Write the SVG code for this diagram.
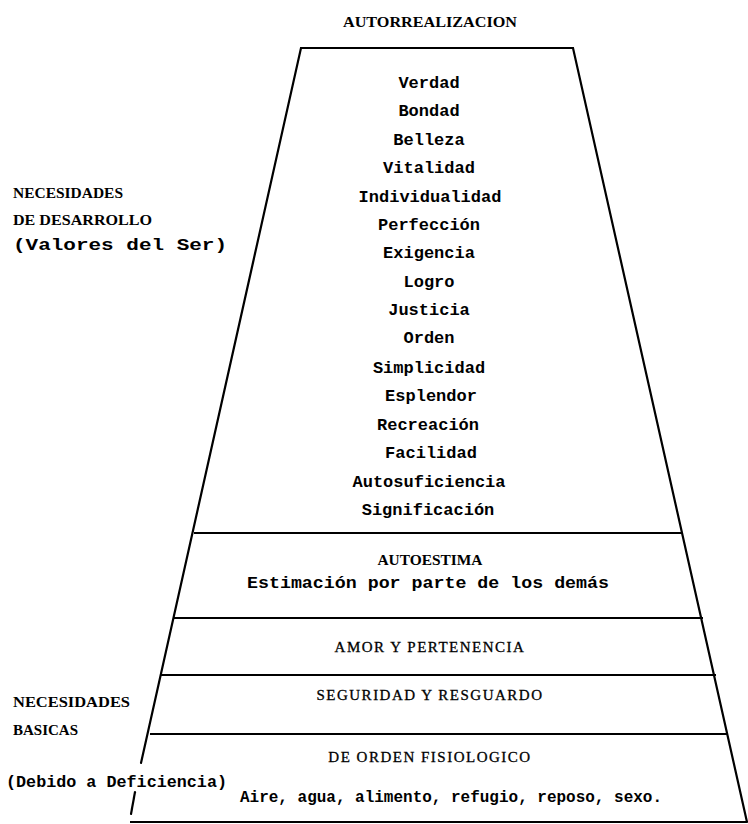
<svg xmlns="http://www.w3.org/2000/svg" width="748" height="824" viewBox="0 0 748 824">
<style>
.edge{stroke:#000;stroke-width:2.2;fill:none;stroke-linecap:round}
.div{stroke:#000;stroke-width:2;fill:none}
.cap{font-family:"Liberation Serif",serif;font-weight:bold;font-size:15px;fill:#000}
.capr{font-family:"Liberation Serif",serif;font-size:15px;fill:#000;letter-spacing:1.5px;stroke:#000;stroke-width:0.3}
.item{font-family:"Liberation Mono",monospace;font-weight:bold;font-size:17px;fill:#000;text-anchor:middle}
.mono{font-family:"Liberation Mono",monospace;font-weight:bold;font-size:16px;fill:#000}
.mid{text-anchor:middle}
</style>
<rect width="748" height="824" fill="#fff"/>
<g id="connectors">
<path class="edge" d="M141,763 L301,48 L573,48 L747,822"/>
<path class="edge" d="M135,792 L131,814"/>
<line class="div" x1="194" y1="533" x2="682" y2="533"/>
<line class="div" x1="174" y1="618" x2="703" y2="618"/>
<line class="div" x1="161" y1="675" x2="716" y2="675"/>
<line class="div" x1="150" y1="734" x2="728" y2="734"/>
<line class="div" x1="130" y1="822" x2="747" y2="822"/>
</g>
<g id="autorrealizacion">
<text class="cap mid" x="430" y="27" textLength="174" lengthAdjust="spacingAndGlyphs">AUTORREALIZACION</text>
<text class="item" x="429" y="88">Verdad</text>
<text class="item" x="429" y="116">Bondad</text>
<text class="item" x="429" y="145">Belleza</text>
<text class="item" x="429" y="173">Vitalidad</text>
<text class="item" x="430" y="202">Individualidad</text>
<text class="item" x="429" y="230">Perfección</text>
<text class="item" x="429" y="258">Exigencia</text>
<text class="item" x="429" y="287">Logro</text>
<text class="item" x="429" y="315">Justicia</text>
<text class="item" x="429" y="343">Orden</text>
<text class="item" x="429" y="373">Simplicidad</text>
<text class="item" x="431" y="401">Esplendor</text>
<text class="item" x="428" y="430">Recreación</text>
<text class="item" x="431" y="458">Facilidad</text>
<text class="item" x="429" y="487">Autosuficiencia</text>
<text class="item" x="428" y="515">Significación</text>
</g>
<g id="autoestima">
<text class="cap mid" x="430" y="565" textLength="105" lengthAdjust="spacingAndGlyphs">AUTOESTIMA</text>
<text class="mono mid" x="428" y="588" textLength="362" lengthAdjust="spacingAndGlyphs">Estimación por parte de los demás</text>
</g>
<g id="amor">
<text class="capr mid" x="430" y="652">AMOR Y PERTENENCIA</text>
</g>
<g id="seguridad">
<text class="capr mid" x="430" y="700">SEGURIDAD Y RESGUARDO</text>
</g>
<g id="fisiologico">
<text class="capr mid" x="430" y="762">DE ORDEN FISIOLOGICO</text>
<text class="mono" x="240" y="802" textLength="422" lengthAdjust="spacingAndGlyphs">Aire, agua, alimento, refugio, reposo, sexo.</text>
</g>
<g id="desarrollo">
<text class="cap" x="13" y="198" textLength="110" lengthAdjust="spacingAndGlyphs">NECESIDADES</text>
<text class="cap" x="13" y="225" textLength="139" lengthAdjust="spacingAndGlyphs">DE DESARROLLO</text>
<text class="mono" x="13" y="250" textLength="214" lengthAdjust="spacingAndGlyphs">(Valores del Ser)</text>
</g>
<g id="basicas">
<text class="cap" x="13" y="707" textLength="117" lengthAdjust="spacingAndGlyphs">NECESIDADES</text>
<text class="cap" x="13" y="735" textLength="65" lengthAdjust="spacingAndGlyphs">BASICAS</text>
<text class="mono" x="6" y="787" textLength="221" lengthAdjust="spacingAndGlyphs">(Debido a Deficiencia)</text>
</g>
</svg>
